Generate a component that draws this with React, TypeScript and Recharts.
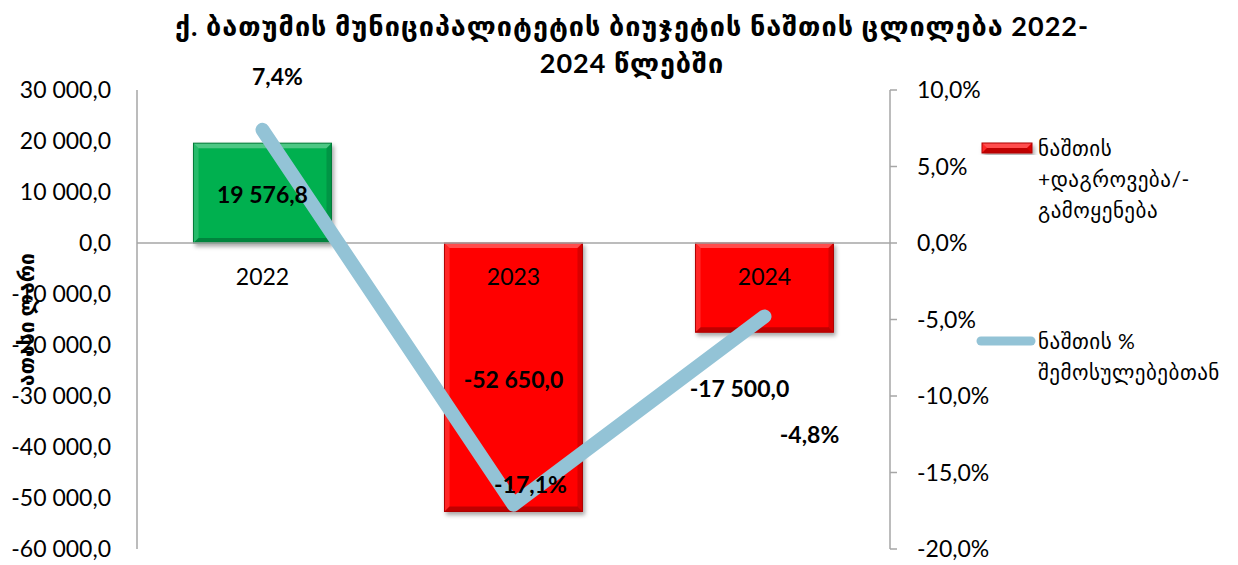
import React from "react"
import {
  ComposedChart,
  Bar,
  Line,
  XAxis,
  YAxis,
  Cell,
  LabelList,
  ReferenceLine,
  ReferenceDot,
} from "recharts"

const titleLines = ["ქ. ბათუმის მუნიციპალიტეტის ბიუჯეტის ნაშთის ცლილება 2022-", "2024 წლებში"]
const leftAxisTitle = "ათასი ლარი"
const categories = ["2022", "2023", "2024"]
const balanceValues = [19576.8, -52650.0, -17500.0]
const balanceShare = [0.074, -0.171, -0.048]
const leftTicks = [30000, 20000, 10000, 0, -10000, -20000, -30000, -40000, -50000, -60000]
const rightTicks = [0.1, 0.05, 0, -0.05, -0.1, -0.15, -0.2]
const barLegendLines = ["ნაშთის", "+დაგროვება/-", "გამოყენება"]
const lineLegendLines = ["ნაშთის %", "შემოსულებებთან"]

const data = categories.map((name, i) => ({
  name,
  balance: balanceValues[i],
  share: balanceShare[i],
}))

const GREEN = "#00b050"
const RED = "#ff0000"
const LINE = "#93c3d6"
const AXIS = "#a6a6a6"
const FONT = "Lato, 'DejaVu Sans', sans-serif"

// manual label nudges, the source chart had them dragged around by hand
const barLabelShift = [
  [0, 2],
  [0, 3],
  [-25, 101],
]
const lineLabelShift = [
  [15, -53],
  [17, -20],
  [45, 119],
]

function fmtNum(v: number) {
  const [i, d] = Math.abs(v).toFixed(1).split(".")
  const grouped = i.replace(/\B(?=(\d{3})+(?!\d))/g, " ")
  return (v < 0 ? "-" : "") + grouped + "," + d
}

function fmtPct(v: number) {
  const s = (v * 100).toFixed(1).replace(".", ",")
  return (s === "-0,0" ? "0,0" : s) + "%"
}

function BevelBar(props: any) {
  const { x, y, width, height, fill } = props
  const t = height < 0 ? y + height : y
  const h = Math.abs(height)
  const w = width
  const b = Math.min(5, h / 2)
  const dark = fill === GREEN ? "#007a38" : "#b00000"
  return (
    <g filter="url(#barShadow)">
      <rect x={x} y={t} width={w} height={h} fill={fill} />
      <polygon
        points={`${x},${t} ${x + w},${t} ${x + w - b},${t + b} ${x + b},${t + b}`}
        fill="#ffffff"
        fillOpacity={0.3}
      />
      <polygon
        points={`${x},${t} ${x + b},${t + b} ${x + b},${t + h - b} ${x},${t + h}`}
        fill="#ffffff"
        fillOpacity={0.15}
      />
      <polygon
        points={`${x + w},${t} ${x + w},${t + h} ${x + w - b},${t + h - b} ${x + w - b},${t + b}`}
        fill="#000000"
        fillOpacity={0.15}
      />
      <polygon
        points={`${x},${t + h} ${x + w},${t + h} ${x + w - b},${t + h - b} ${x + b},${t + h - b}`}
        fill="#000000"
        fillOpacity={0.25}
      />
      <rect x={x} y={t} width={w} height={h} fill="none" stroke={dark} strokeWidth={1} />
    </g>
  )
}

function BarValueLabel(props: any) {
  const vb = props.viewBox || props
  const idx = props.index ?? 0
  const cx = vb.x + vb.width / 2 + barLabelShift[idx][0]
  const cy = vb.y + vb.height / 2 + barLabelShift[idx][1]
  return (
    <text
      x={cx}
      y={cy}
      dy="0.35em"
      textAnchor="middle"
      fontFamily={FONT}
      fontWeight="bold"
      fontSize={23}
      fill="#000"
    >
      {fmtNum(Number(props.value))}
    </text>
  )
}

function ShareLabel(props: any) {
  const vb = props.viewBox || props
  const idx = props.index ?? 0
  const px = (props.x ?? vb.x) + (vb.width || 0) / 2
  const py = (props.y ?? vb.y) + (vb.height || 0) / 2
  return (
    <text
      x={px + lineLabelShift[idx][0]}
      y={py + lineLabelShift[idx][1]}
      dy="0.35em"
      textAnchor="middle"
      fontFamily={FONT}
      fontWeight="bold"
      fontSize={23}
      fill="#000"
    >
      {fmtPct(Number(props.value))}
    </text>
  )
}

export default function App() {
  return (
    <div
      style={{
        position: "absolute",
        left: 0,
        top: 0,
        width: 1238,
        height: 565,
        background: "#fff",
        fontFamily: FONT,
      }}
    >
      <div
        style={{
          position: "absolute",
          left: 0,
          top: 7,
          width: 1264,
          textAlign: "center",
          fontWeight: "bold",
          fontSize: 27,
          letterSpacing: 1,
          lineHeight: "37px",
          color: "#000",
        }}
      >
        {titleLines.map((l) => (
          <div key={l}>{l}</div>
        ))}
      </div>

      <ComposedChart
        width={1238}
        height={565}
        data={data}
        margin={{ top: 90, right: 248, bottom: 16, left: 0 }}
        barCategoryGap="22.5%"
      >
        <defs>
          <filter id="barShadow" x="-10%" y="-10%" width="130%" height="130%">
            <feDropShadow dx="2" dy="3" stdDeviation="2" floodColor="#000" floodOpacity="0.35" />
          </filter>
        </defs>
        <XAxis dataKey="name" hide />
        <YAxis
          yAxisId="left"
          width={137}
          domain={[-60000, 30000]}
          ticks={leftTicks}
          tickFormatter={fmtNum}
          interval={0}
          tickLine={false}
          tickSize={0}
          tickMargin={26}
          axisLine={{ stroke: AXIS, strokeWidth: 1.5 }}
          tick={{ fill: "#000", fontSize: 23, fontFamily: FONT }}
          label={{
            value: leftAxisTitle,
            angle: -90,
            position: "insideLeft",
            offset: 27,
            style: {
              textAnchor: "middle",
              fontFamily: FONT,
              fontWeight: "bold",
              fontSize: 21,
              fill: "#000",
            },
          }}
        />
        <YAxis
          yAxisId="right"
          orientation="right"
          width={100}
          domain={[-0.2, 0.1]}
          ticks={rightTicks}
          tickFormatter={fmtPct}
          interval={0}
          tickSize={7}
          tickMargin={20}
          tickLine={{ stroke: AXIS, strokeWidth: 1.5 }}
          axisLine={{ stroke: AXIS, strokeWidth: 1.5 }}
          tick={{ fill: "#000", fontSize: 23, fontFamily: FONT }}
        />
        <ReferenceLine yAxisId="left" y={0} stroke={AXIS} strokeWidth={1.5} />
        <Bar
          yAxisId="left"
          dataKey="balance"
          fill={RED}
          shape={<BevelBar />}
          isAnimationActive={false}
        >
          {data.map((d) => (
            <Cell key={d.name} fill={d.balance >= 0 ? GREEN : RED} />
          ))}
          <LabelList dataKey="balance" content={<BarValueLabel />} />
        </Bar>
        {categories.map((c) => (
          <ReferenceDot
            key={c}
            yAxisId="left"
            x={c}
            y={0}
            r={0}
            fill="none"
            stroke="none"
            label={{
              value: c,
              position: "bottom",
              offset: 26,
              fill: "#000",
              fontSize: 23,
              fontFamily: FONT,
            }}
          />
        ))}
        <Line
          yAxisId="right"
          dataKey="share"
          type="linear"
          stroke={LINE}
          strokeWidth={14}
          strokeLinecap="round"
          strokeLinejoin="round"
          dot={false}
          activeDot={false}
          isAnimationActive={false}
        >
          <LabelList dataKey="share" content={<ShareLabel />} />
        </Line>
      </ComposedChart>

      {/* legend */}
      <div style={{ position: "absolute", left: 976, top: 132, fontSize: 21, lineHeight: "31px", letterSpacing: 0.5, color: "#000" }}>
        <div style={{ display: "flex", alignItems: "flex-start" }}>
          <svg width={62} height={31} style={{ flex: "none" }}>
            <BevelBar x={6} y={11} width={50} height={10} fill={RED} />
          </svg>
          <div>
            {barLegendLines.map((l) => (
              <div key={l}>{l}</div>
            ))}
          </div>
        </div>
        <div style={{ display: "flex", alignItems: "flex-start", marginTop: 100 }}>
          <svg width={62} height={31} style={{ flex: "none" }}>
            <line x1={5} y1={16} x2={55} y2={16} stroke={LINE} strokeWidth={9} strokeLinecap="round" />
          </svg>
          <div>
            {lineLegendLines.map((l) => (
              <div key={l}>{l}</div>
            ))}
          </div>
        </div>
      </div>
    </div>
  )
}
